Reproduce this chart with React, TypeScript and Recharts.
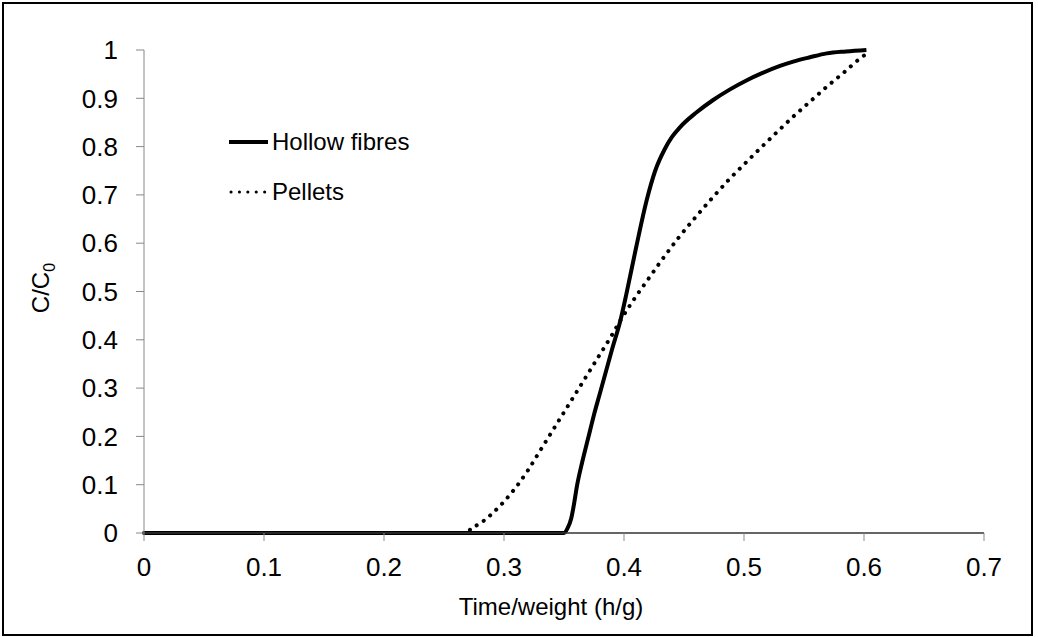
import { LineChart, Line, XAxis, YAxis, Legend } from 'recharts'

const xTicks = [0, 0.1, 0.2, 0.3, 0.4, 0.5, 0.6, 0.7]
const yTicks = [0, 0.1, 0.2, 0.3, 0.4, 0.5, 0.6, 0.7, 0.8, 0.9, 1]

const seriesNames = ['Hollow fibres', 'Pellets']

// time/weight (h/g) -> C/C0
const fibresT = [0, 0.1, 0.2, 0.3, 0.35, 0.353, 0.356, 0.358, 0.361, 0.365, 0.37, 0.375, 0.38, 0.385, 0.39, 0.397, 0.402, 0.41, 0.419, 0.426, 0.434, 0.44, 0.447, 0.46, 0.474, 0.488, 0.502, 0.515, 0.53, 0.541, 0.555, 0.569, 0.585, 0.602]
const fibresC = [0, 0, 0, 0, 0, 0.01, 0.03, 0.055, 0.1, 0.145, 0.195, 0.245, 0.29, 0.335, 0.38, 0.44, 0.495, 0.59, 0.69, 0.75, 0.795, 0.82, 0.841, 0.87, 0.896, 0.918, 0.937, 0.952, 0.967, 0.976, 0.985, 0.993, 0.997, 1.0]

const pelletsT = [0, 0.1, 0.2, 0.27, 0.272, 0.278, 0.284, 0.29, 0.3, 0.31, 0.32, 0.33, 0.34, 0.35, 0.36, 0.37, 0.38, 0.39, 0.397, 0.41, 0.42, 0.43, 0.445, 0.46, 0.474, 0.488, 0.502, 0.515, 0.53, 0.541, 0.555, 0.569, 0.583, 0.597, 0.604]
const pelletsC = [0, 0, 0, 0, 0.008, 0.017, 0.027, 0.04, 0.065, 0.095, 0.13, 0.17, 0.21, 0.25, 0.29, 0.33, 0.37, 0.41, 0.44, 0.49, 0.525, 0.56, 0.61, 0.655, 0.695, 0.733, 0.768, 0.8, 0.836, 0.862, 0.893, 0.924, 0.953, 0.983, 0.995]

const fibres = fibresT.map((t, i) => ({ t, c: fibresC[i] }))
const pellets = pelletsT.map((t, i) => ({ t, c: pelletsC[i] }))

const font = '"Liberation Sans", Arial, sans-serif'

function LegendBox() {
  return (
    <svg width={200} height={80} style={{ display: 'block' }}>
      <line x1={0} y1={13} x2={39} y2={13} stroke="#000" strokeWidth={4} />
      <text x={43} y={21} fontSize={24} fontFamily={font} fill="#000">{seriesNames[0]}</text>
      <line x1={2} y1={63} x2={39} y2={63} stroke="#000" strokeWidth={3} strokeDasharray="0.1 8.3" strokeLinecap="round" />
      <text x={43} y={71} fontSize={24} fontFamily={font} fill="#000">{seriesNames[1]}</text>
    </svg>
  )
}

export default function App() {
  return (
    <div
      style={{
        position: 'absolute',
        left: 2,
        top: 2,
        width: 1031,
        height: 634,
        border: '2px solid #000',
        boxSizing: 'border-box',
        background: '#fff',
      }}
    >
      <LineChart width={1027} height={630} margin={{ top: 46, right: 47, bottom: 41, left: 0 }}>
        <XAxis
          type="number"
          dataKey="t"
          domain={[0, 0.7]}
          ticks={xTicks}
          interval={0}
          height={60}
          tickSize={8}
          tickMargin={17}
          axisLine={{ stroke: '#333', strokeWidth: 1.5 }}
          tickLine={{ stroke: '#888' }}
          tick={{ fontSize: 26, fill: '#000', fontFamily: font }}
          label={() => (
            <text x={547} y={611} textAnchor="middle" fontSize={24} fontFamily={font} fill="#000">
              Time/weight (h/g)
            </text>
          )}
        />
        <YAxis
          type="number"
          dataKey="c"
          domain={[0, 1]}
          ticks={yTicks}
          interval={0}
          width={140}
          tickSize={8}
          tickMargin={18}
          axisLine={{ stroke: '#888' }}
          tickLine={{ stroke: '#888' }}
          tick={{ fontSize: 26, fill: '#000', fontFamily: font }}
          label={() => (
            <text
              x={45}
              y={284}
              transform="rotate(-90, 45, 284)"
              textAnchor="middle"
              fontSize={24}
              fontFamily={font}
              fill="#000"
            >
              <tspan>C/C</tspan>
              <tspan dy={6} fontSize={16}>0</tspan>
            </text>
          )}
        />
        <Legend
          layout="vertical"
          align="center"
          verticalAlign="middle"
          content={() => <LegendBox />}
          wrapperStyle={{ left: 225, top: 125, width: 200 }}
        />
        <Line
          data={pellets}
          dataKey="c"
          name={seriesNames[1]}
          type="monotone"
          stroke="#000"
          strokeWidth={4}
          strokeDasharray="0.1 8.3"
          strokeLinecap="round"
          dot={false}
          activeDot={false}
          isAnimationActive={false}
        />
        <Line
          data={fibres}
          dataKey="c"
          name={seriesNames[0]}
          type="monotone"
          stroke="#000"
          strokeWidth={4}
          dot={false}
          activeDot={false}
          isAnimationActive={false}
        />
      </LineChart>
    </div>
  )
}
